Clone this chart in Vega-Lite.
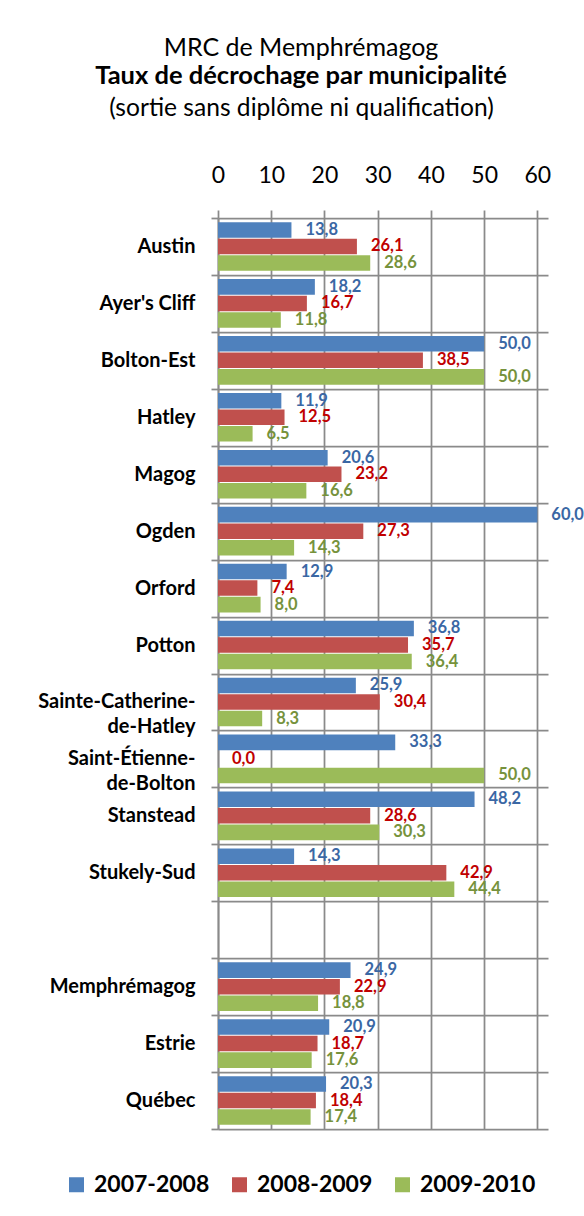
{
  "$schema": "https://vega.github.io/schema/vega-lite/v6.json",
  "autosize": {"type": "none"},
  "width": 330,
  "height": 911,
  "padding": {"left": 218, "top": 218, "right": 36, "bottom": 87},
  "background": "white",
  "config": {
    "locale": {"number": {"decimal": ",", "thousands": " ", "grouping": [3], "currency": ["", " $"]}},
    "view": {"stroke": null},
    "font": "Lato"
  },
  "title": {
    "text": "MRC de Memphrémagog",
    "subtitle": "Taux de décrochage par municipalité",
    "font": "Lato",
    "fontSize": 25,
    "fontWeight": "normal",
    "color": "black",
    "subtitleFont": "Lato",
    "subtitleFontSize": 25.5,
    "subtitleFontWeight": "bold",
    "subtitleColor": "black",
    "subtitlePadding": 3,
    "anchor": "middle",
    "frame": "group",
    "dx": -82,
    "offset": 6
  },
  "data": {
    "values": [
      {"name": "Austin", "serie": "2007-2008", "valeur": 13.8},
      {"name": "Austin", "serie": "2008-2009", "valeur": 26.1},
      {"name": "Austin", "serie": "2009-2010", "valeur": 28.6},
      {"name": "Ayer's Cliff", "serie": "2007-2008", "valeur": 18.2},
      {"name": "Ayer's Cliff", "serie": "2008-2009", "valeur": 16.7},
      {"name": "Ayer's Cliff", "serie": "2009-2010", "valeur": 11.8},
      {"name": "Bolton-Est", "serie": "2007-2008", "valeur": 50.0},
      {"name": "Bolton-Est", "serie": "2008-2009", "valeur": 38.5},
      {"name": "Bolton-Est", "serie": "2009-2010", "valeur": 50.0},
      {"name": "Hatley", "serie": "2007-2008", "valeur": 11.9},
      {"name": "Hatley", "serie": "2008-2009", "valeur": 12.5},
      {"name": "Hatley", "serie": "2009-2010", "valeur": 6.5},
      {"name": "Magog", "serie": "2007-2008", "valeur": 20.6},
      {"name": "Magog", "serie": "2008-2009", "valeur": 23.2},
      {"name": "Magog", "serie": "2009-2010", "valeur": 16.6},
      {"name": "Ogden", "serie": "2007-2008", "valeur": 60.0},
      {"name": "Ogden", "serie": "2008-2009", "valeur": 27.3},
      {"name": "Ogden", "serie": "2009-2010", "valeur": 14.3},
      {"name": "Orford", "serie": "2007-2008", "valeur": 12.9},
      {"name": "Orford", "serie": "2008-2009", "valeur": 7.4},
      {"name": "Orford", "serie": "2009-2010", "valeur": 8.0},
      {"name": "Potton", "serie": "2007-2008", "valeur": 36.8},
      {"name": "Potton", "serie": "2008-2009", "valeur": 35.7},
      {"name": "Potton", "serie": "2009-2010", "valeur": 36.4},
      {"name": "Sainte-Catherine-|de-Hatley", "serie": "2007-2008", "valeur": 25.9},
      {"name": "Sainte-Catherine-|de-Hatley", "serie": "2008-2009", "valeur": 30.4},
      {"name": "Sainte-Catherine-|de-Hatley", "serie": "2009-2010", "valeur": 8.3},
      {"name": "Saint-Étienne-|de-Bolton", "serie": "2007-2008", "valeur": 33.3},
      {"name": "Saint-Étienne-|de-Bolton", "serie": "2008-2009", "valeur": 0.0},
      {"name": "Saint-Étienne-|de-Bolton", "serie": "2009-2010", "valeur": 50.0},
      {"name": "Stanstead", "serie": "2007-2008", "valeur": 48.2},
      {"name": "Stanstead", "serie": "2008-2009", "valeur": 28.6},
      {"name": "Stanstead", "serie": "2009-2010", "valeur": 30.3},
      {"name": "Stukely-Sud", "serie": "2007-2008", "valeur": 14.3},
      {"name": "Stukely-Sud", "serie": "2008-2009", "valeur": 42.9},
      {"name": "Stukely-Sud", "serie": "2009-2010", "valeur": 44.4},
      {"name": "Memphrémagog", "serie": "2007-2008", "valeur": 24.9},
      {"name": "Memphrémagog", "serie": "2008-2009", "valeur": 22.9},
      {"name": "Memphrémagog", "serie": "2009-2010", "valeur": 18.8},
      {"name": "Estrie", "serie": "2007-2008", "valeur": 20.9},
      {"name": "Estrie", "serie": "2008-2009", "valeur": 18.7},
      {"name": "Estrie", "serie": "2009-2010", "valeur": 17.6},
      {"name": "Québec", "serie": "2007-2008", "valeur": 20.3},
      {"name": "Québec", "serie": "2008-2009", "valeur": 18.4},
      {"name": "Québec", "serie": "2009-2010", "valeur": 17.4}
    ]
  },
  "encoding": {
    "y": {
      "field": "name",
      "type": "nominal",
      "scale": {
        "domain": ["Austin", "Ayer's Cliff", "Bolton-Est", "Hatley", "Magog", "Ogden", "Orford", "Potton", "Sainte-Catherine-|de-Hatley", "Saint-Étienne-|de-Bolton", "Stanstead", "Stukely-Sud", " ", "Memphrémagog", "Estrie", "Québec"],
        "paddingInner": 0,
        "paddingOuter": 0
      },
      "axis": {
        "title": null,
        "grid": true,
        "tickBand": "extent",
        "gridColor": "#8a8a8a",
        "gridWidth": 1.75,
        "tickColor": "#8a8a8a",
        "tickWidth": 1.75,
        "tickSize": 7,
        "domainColor": "#8a8a8a",
        "domainWidth": 1.75,
        "labelPadding": 16,
        "labelFont": "Lato",
        "labelFontSize": 20,
        "labelFontWeight": "bold",
        "labelColor": "black",
        "labelLineHeight": 25,
        "labelLimit": 300,
        "labelExpr": "split(datum.label, '|')"
      }
    },
    "yOffset": {
      "field": "serie",
      "type": "nominal",
      "scale": {"domain": ["2007-2008", "2008-2009", "2009-2010"], "paddingInner": 0.06, "paddingOuter": 0.25}
    },
    "x": {
      "field": "valeur",
      "type": "quantitative",
      "scale": {"domain": [0, 62], "nice": false},
      "axis": {
        "orient": "top",
        "values": [0, 10, 20, 30, 40, 50, 60],
        "grid": true,
        "gridColor": "#8a8a8a",
        "gridWidth": 1.75,
        "tickColor": "#8a8a8a",
        "tickWidth": 1.75,
        "tickSize": 8,
        "domain": false,
        "labelFont": "Lato",
        "labelFontSize": 23,
        "labelColor": "black",
        "labelPadding": 23,
        "labelFlush": false,
        "title": "(sortie sans diplôme ni qualification)",
        "titleFont": "Lato",
        "titleFontSize": 24.6,
        "titleFontWeight": "normal",
        "titleColor": "black",
        "titleX": 83,
        "titleY": -103,
        "titleAlign": "center",
        "titleBaseline": "alphabetic"
      }
    }
  },
  "layer": [
    {
      "mark": {"type": "bar"},
      "encoding": {
        "color": {
          "field": "serie",
          "type": "nominal",
          "scale": {"domain": ["2007-2008", "2008-2009", "2009-2010"], "range": ["#4F81BD", "#C0504D", "#9BBB59"]},
          "legend": {
            "title": null,
            "orient": "none",
            "direction": "horizontal",
            "legendX": -153,
            "legendY": 955,
            "symbolType": "square",
            "symbolSize": 225,
            "symbolStrokeWidth": 0,
            "labelFont": "Lato",
            "labelFontSize": 23,
            "labelFontWeight": "bold",
            "labelColor": "black",
            "labelOffset": 6,
            "columnPadding": 18,
            "gridAlign": "all"
          }
        }
      }
    },
    {
      "mark": {"type": "text", "align": "left", "baseline": "middle", "dx": 14, "font": "Lato", "fontSize": 16.5, "fontWeight": "bold"},
      "encoding": {
        "text": {"field": "valeur", "type": "quantitative", "format": ".1f"},
        "color": {
          "field": "serie",
          "type": "nominal",
          "scale": {"domain": ["2007-2008", "2008-2009", "2009-2010"], "range": ["#3A67A4", "#C00000", "#76923C"]},
          "legend": null
        }
      }
    }
  ],
  "resolve": {"scale": {"color": "independent"}}
}
